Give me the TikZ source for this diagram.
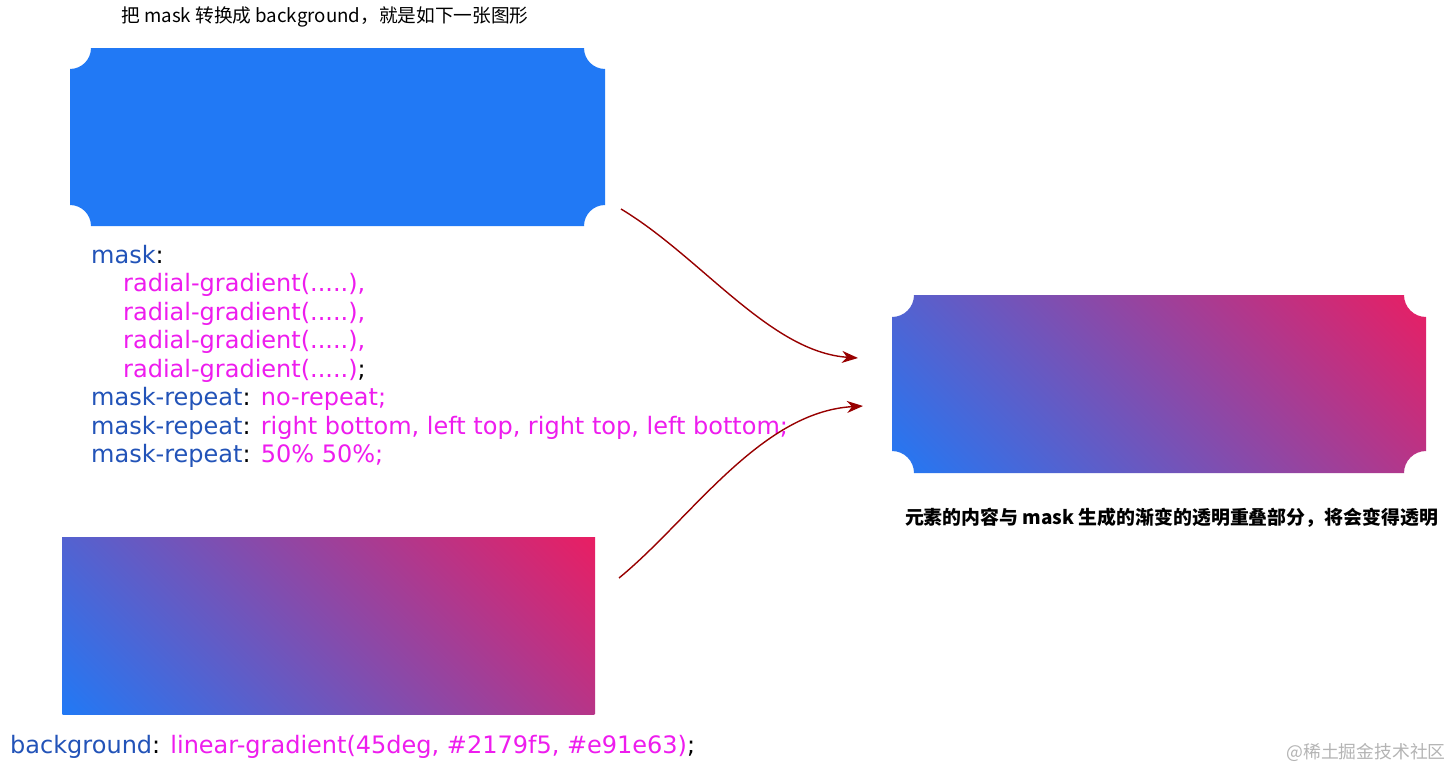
\documentclass[tikz,border=0pt]{standalone}
\usepackage{fontspec}
\setmainfont{DejaVu Sans}
\newfontfamily\cjk{Noto Sans CJK SC}
\usetikzlibrary{arrows.meta}
\definecolor{gA}{HTML}{2179F5}
\definecolor{gB}{HTML}{E91E63}
\definecolor{kw}{HTML}{2253B8}
\definecolor{val}{HTML}{EE1CEE}
\definecolor{arr}{HTML}{980000}
\definecolor{wm}{HTML}{B4B4B4}
\begin{document}
\begin{tikzpicture}[x=1pt,y=1pt,
  code/.style={anchor=base west, inner sep=0pt, font=\fontsize{24}{28.5}\selectfont},
  conn/.style={draw=arr, line width=1.4pt, -{Stealth[length=16pt,width=12pt,inset=5pt]}},
  captxt/.style={inner sep=0pt, font=\cjk\fontsize{18.7}{22}\selectfont},
  captxtb/.style={inner sep=0pt, font=\cjk\bfseries\fontsize{18.9}{22}\selectfont},
  wmtxt/.style={inner sep=0pt, text=wm, font=\cjk\fontsize{17.8}{20}\selectfont}]

\useasboundingbox (0,0) rectangle (1452,-771);
\fill[white] (0,0) rectangle (1452,-771);

% top caption
\node[captxt] (t1) at (325,-17) {把 mask 转换成 background，就是如下一张图形};

% top blue ticket
\fill[gA] (91,-48) -- (584,-48) arc[start angle=180,end angle=270,radius=21]
  -- (605,-205) arc[start angle=90,end angle=180,radius=21]
  -- (91,-226) arc[start angle=0,end angle=90,radius=21]
  -- (70,-69) arc[start angle=270,end angle=360,radius=21] -- cycle;

% right gradient ticket
\begin{scope}
  \clip (914,-295) -- (1404,-295) arc[start angle=180,end angle=270,radius=22]
    -- (1426,-451) arc[start angle=90,end angle=180,radius=22]
    -- (914,-473) arc[start angle=0,end angle=90,radius=22]
    -- (892,-317) arc[start angle=270,end angle=360,radius=22] -- cycle;
  \begin{scope}[transform canvas={shift={(1159,-384)},rotate=45}]
    \shade[left color=gA,right color=gB] (-251.7,-251.7) rectangle (251.7,251.7);
  \end{scope}
\end{scope}

% bottom gradient rectangle
\begin{scope}
  \clip (62,-537) rectangle (595,-714);
  \begin{scope}[transform canvas={shift={(328.5,-625.5)},rotate=45}]
    \shade[left color=gA,right color=gB] (-251,-251) rectangle (251,251);
  \end{scope}
\end{scope}

% code text
\node[code] (l1) at (91,-263) {\textcolor{kw}{mask}:};
\node[code] (l2) at (123,-291.5) {\textcolor{val}{radial-gradient(.....),}};
\node[code] (l3) at (123,-320) {\textcolor{val}{radial-gradient(.....),}};
\node[code] (l4) at (123,-348.5) {\textcolor{val}{radial-gradient(.....),}};
\node[code] (l5) at (123,-377) {\textcolor{val}{radial-gradient(.....)};};
\node[code] (l6) at (91,-405.5) {\textcolor{kw}{mask-repeat}: \textcolor{val}{no-repeat;}};
\node[code] (l7) at (91,-434) {\textcolor{kw}{mask-repeat}: \textcolor{val}{right bottom, left top, right top, left bottom;}};
\node[code] (l8) at (91,-462.5) {\textcolor{kw}{mask-repeat}: \textcolor{val}{50\% 50\%;}};
\node[code] (bg) at (10,-753) {\textcolor{kw}{background}: \textcolor{val}{linear-gradient(45deg, \#2179f5, \#e91e63)};};

% right caption
\node[captxtb] (t2) at (1171.5,-518) {元素的内容与 mask 生成的渐变的透明重叠部分，将会变得透明};

% watermark
\node[wmtxt] (wm) at (1366,-752) {@稀土掘金技术社区};

% arrows
\coordinate (a1s) at (621,-209);
\coordinate (a1e) at (858,-358);
\coordinate (a2s) at (619,-578);
\coordinate (a2e) at (863,-406);
\draw[conn] (a1s) .. controls (701,-257) and (770,-352) .. (a1e);
\draw[conn] (a2s) .. controls (690,-520) and (760,-412) .. (a2e);
\end{tikzpicture}
\end{document}
